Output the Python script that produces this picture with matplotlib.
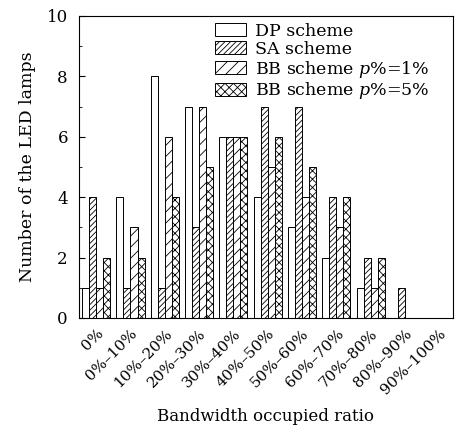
import numpy as np
import matplotlib.pyplot as plt

plt.rcParams['font.family'] = ['DejaVu Serif']
plt.rcParams['mathtext.fontset'] = 'dejavuserif'
plt.rcParams['hatch.linewidth'] = 0.6

categories = ['0%', '0%–10%', '10%–20%', '20%–30%', '30%–40%', '40%–50%',
              '50%–60%', '60%–70%', '70%–80%', '80%–90%', '90%–100%']
dp = [1, 4, 8, 7, 6, 4, 3, 2, 1, 0, 0]
sa = [4, 1, 1, 3, 6, 7, 7, 4, 2, 1, 0]
bb1 = [1, 3, 6, 7, 6, 5, 4, 3, 1, 0, 0]
bb5 = [2, 2, 4, 5, 6, 6, 5, 4, 2, 0, 0]

series = [dp, sa, bb1, bb5]
names = ['DP scheme', 'SA scheme', 'BB scheme $p$%=1%', 'BB scheme $p$%=5%']
hatches = ['', '//////', '///', 'xxxx']

fig = plt.figure(figsize=(4.58, 4.3), dpi=100)
ax = fig.add_axes([0.1725, 0.2605, 0.8165, 0.7025])

x = np.arange(len(categories))
w = 0.205
for i, (vals, name, h) in enumerate(zip(series, names, hatches)):
    ax.bar(x + (i - 1.5) * w, vals, w, facecolor='white', edgecolor='black',
           linewidth=0.7, hatch=h, label=name)

ax.set_xlim(-0.5, 10.4)
ax.set_ylim(0, 10)
ax.set_yticks([0, 2, 4, 6, 8, 10])
ax.set_yticks([1, 3, 5, 7, 9], minor=True)
ax.set_xticks(x)
ax.set_xticklabels(categories, rotation=45, ha='right', rotation_mode='anchor')
ax.tick_params(axis='y', direction='in', labelsize=12, length=4, pad=8)
ax.tick_params(axis='y', which='minor', direction='in', length=2)
ax.tick_params(axis='x', length=0, labelsize=11, pad=6)
for s in ax.spines.values():
    s.set_linewidth(0.8)

ax.set_ylabel('Number of the LED lamps', fontsize=12.5, labelpad=8)
ax.set_xlabel('Bandwidth occupied ratio', fontsize=12, labelpad=8)

ax.legend(loc='upper right', frameon=False, fontsize=12.5, handlelength=1.8,
          handleheight=0.75, labelspacing=0.05, borderaxespad=0.0,
          handletextpad=0.5, bbox_to_anchor=(0.955, 1.0))

fig.savefig('out.png', dpi=100)
